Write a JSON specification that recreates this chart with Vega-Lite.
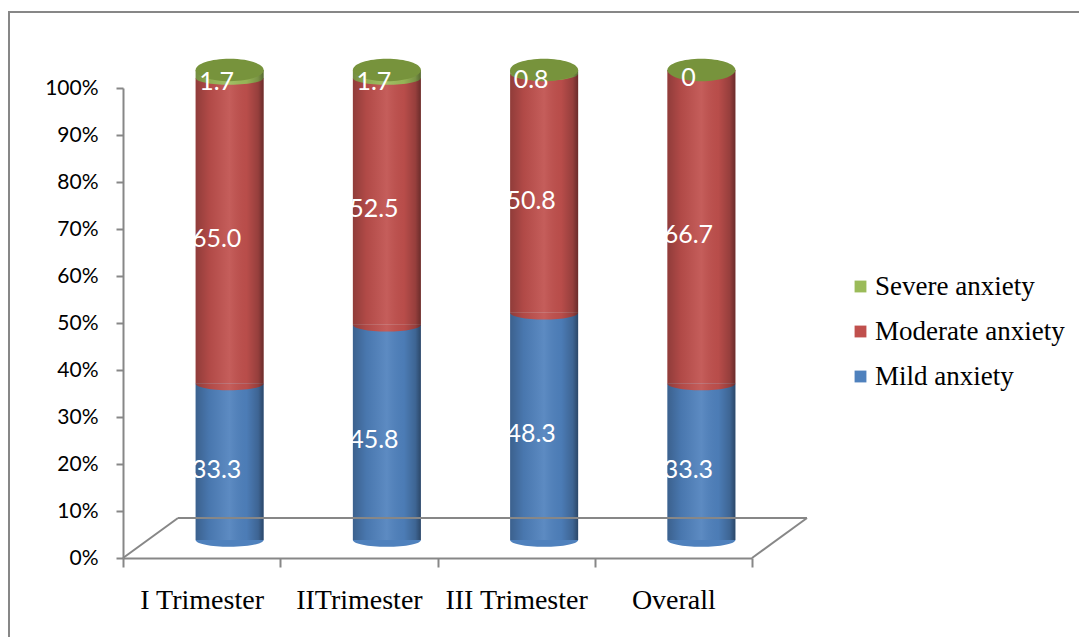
{
  "$schema": "https://vega.github.io/schema/vega-lite/v6.json",
  "width": 1073,
  "height": 628,
  "autosize": {"type": "none"},
  "padding": {"left": 9, "top": 12, "right": -3, "bottom": -3},
  "background": "white",
  "config": {"view": {"stroke": "#878787", "strokeWidth": 2}},
  "data": {
    "values": [
      {"category": "I Trimester", "series": "Mild anxiety", "value": 33.3, "label": "33.3"},
      {"category": "I Trimester", "series": "Moderate anxiety", "value": 65.0, "label": "65.0"},
      {"category": "I Trimester", "series": "Severe anxiety", "value": 1.7, "label": "1.7"},
      {"category": "IITrimester", "series": "Mild anxiety", "value": 45.8, "label": "45.8"},
      {"category": "IITrimester", "series": "Moderate anxiety", "value": 52.5, "label": "52.5"},
      {"category": "IITrimester", "series": "Severe anxiety", "value": 1.7, "label": "1.7"},
      {"category": "III Trimester", "series": "Mild anxiety", "value": 48.3, "label": "48.3"},
      {"category": "III Trimester", "series": "Moderate anxiety", "value": 50.8, "label": "50.8"},
      {"category": "III Trimester", "series": "Severe anxiety", "value": 0.8, "label": "0.8"},
      {"category": "Overall", "series": "Mild anxiety", "value": 33.3, "label": "33.3"},
      {"category": "Overall", "series": "Moderate anxiety", "value": 66.7, "label": "66.7"},
      {"category": "Overall", "series": "Severe anxiety", "value": 0, "label": "0"}
    ]
  },
  "transform": [
    {"stack": "value", "groupby": ["category"], "sort": [{"field": "series", "order": "ascending"}], "offset": "normalize", "as": ["y0", "y1"]}
  ],
  "layer": [
    {
      "encoding": {
        "x": {
          "field": "category", "type": "nominal", "sort": null,
          "scale": {"type": "band", "range": [114, 743], "paddingInner": 0, "paddingOuter": 0},
          "axis": {
            "orient": "bottom", "offset": -82, "title": null, "tickBand": "extent",
            "domainColor": "#878787", "domainWidth": 2, "tickColor": "#878787", "tickWidth": 2, "tickSize": 9,
            "labelFont": "Liberation Serif", "labelFontSize": 28, "labelColor": "black", "labelPadding": 19, "labelAngle": 0
          }
        }
      },
      "layer": [
        {
          "mark": {"type": "bar", "width": 68, "xOffset": 28, "yOffset": -18, "y2Offset": -18},
          "encoding": {
            "y": {
              "field": "y0", "type": "quantitative",
              "scale": {"domain": [0, 1], "range": [546, 76], "nice": false, "zero": true},
              "axis": {
                "orient": "left", "offset": -114, "format": ".0%", "title": null, "grid": false,
                "values": [0, 0.1, 0.2, 0.3, 0.4, 0.5, 0.6, 0.7, 0.8, 0.9, 1],
                "domainColor": "#878787", "domainWidth": 2, "tickColor": "#878787", "tickWidth": 2, "tickSize": 7,
                "labelFont": "Lato", "labelFontSize": 21, "labelColor": "black", "labelPadding": 18
              }
            },
            "y2": {"field": "y1"},
            "color": {
              "field": "series", "type": "nominal",
              "scale": {"domain": ["Severe anxiety", "Moderate anxiety", "Mild anxiety"], "range": ["#9BBB59", "#C0504D", "#4F81BD"]},
              "legend": {
                "orient": "none", "legendX": 838, "legendY": 261, "title": null, "symbolType": "square", "symbolSize": 140,
                "labelFont": "Liberation Serif", "labelFontSize": 27, "labelColor": "black", "labelLimit": 400, "rowPadding": 17, "labelOffset": 1, "padding": 0
              }
            }
          }
        },
        {
          "mark": {"type": "point", "shape": "M-1,0A1,0.2,0,0,0,1,0Z", "size": 4624, "filled": true, "opacity": 1, "strokeWidth": 0, "xOffset": 28, "yOffset": -18},
          "encoding": {
            "y": {"field": "y0", "type": "quantitative"},
            "color": {"field": "series", "type": "nominal", "legend": null}
          }
        },
        {
          "transform": [{"filter": "datum.series === 'Mild anxiety'"}],
          "mark": {
            "type": "bar", "width": 68, "xOffset": 28, "yOffset": -18, "y2Offset": -18,
            "fill": {
              "gradient": "linear", "x1": 0, "y1": 0, "x2": 1, "y2": 0,
              "stops": [
                {"offset": 0, "color": "rgba(0,0,0,0.25)"},
                {"offset": 0.2, "color": "rgba(0,0,0,0.08)"},
                {"offset": 0.5, "color": "rgba(255,255,255,0.08)"},
                {"offset": 0.75, "color": "rgba(0,0,0,0.04)"},
                {"offset": 0.92, "color": "rgba(0,0,0,0.22)"},
                {"offset": 1, "color": "rgba(0,0,0,0.45)"}
              ]
            }
          },
          "encoding": {
            "y": {"datum": 0, "type": "quantitative"},
            "y2": {"datum": 1}
          }
        },
        {
          "transform": [{"filter": "datum.series === 'Severe anxiety'"}],
          "mark": {"type": "point", "shape": "M-1,0A1,0.33,0,1,1,1,0A1,0.33,0,1,1,-1,0Z", "size": 4624, "filled": true, "opacity": 1, "strokeWidth": 0, "color": "#77933C", "xOffset": 28, "yOffset": -18},
          "encoding": {
            "y": {"field": "y1", "type": "quantitative"}
          }
        },
        {
          "transform": [{"fold": ["y0", "y1"], "as": ["edge", "yv"]}],
          "mark": {"type": "text", "xOffset": 15, "yOffset": -10, "font": "Lato", "fontSize": 25, "color": "white", "baseline": "middle", "align": "center"},
          "encoding": {
            "y": {"field": "yv", "aggregate": "mean", "type": "quantitative"},
            "detail": {"field": "series", "type": "nominal"},
            "text": {"field": "label", "type": "nominal"}
          }
        }
      ]
    },
    {
      "data": {"values": [{}]},
      "encoding": {
        "x": {"datum": 0, "type": "quantitative", "scale": {"domain": [0, 1], "range": [114, 743], "nice": false, "zero": false}, "axis": null},
        "y": {"datum": 0, "type": "quantitative"},
        "y2": {"datum": 0}
      },
      "layer": [
        {
          "mark": {"type": "rule", "color": "#878787", "strokeWidth": 2, "xOffset": 55, "x2Offset": 55, "yOffset": -40, "y2Offset": -40},
          "encoding": {"x2": {"datum": 1}}
        },
        {
          "mark": {"type": "rule", "color": "#878787", "strokeWidth": 2, "x2Offset": 55, "y2Offset": -40},
          "encoding": {"x2": {"datum": 0}}
        },
        {
          "mark": {"type": "rule", "color": "#878787", "strokeWidth": 2, "x2Offset": 55, "y2Offset": -40},
          "encoding": {"x": {"datum": 1, "type": "quantitative"}, "x2": {"datum": 1}}
        }
      ]
    }
  ],
  "resolve": {"scale": {"x": "independent"}, "axis": {"x": "independent"}}
}
